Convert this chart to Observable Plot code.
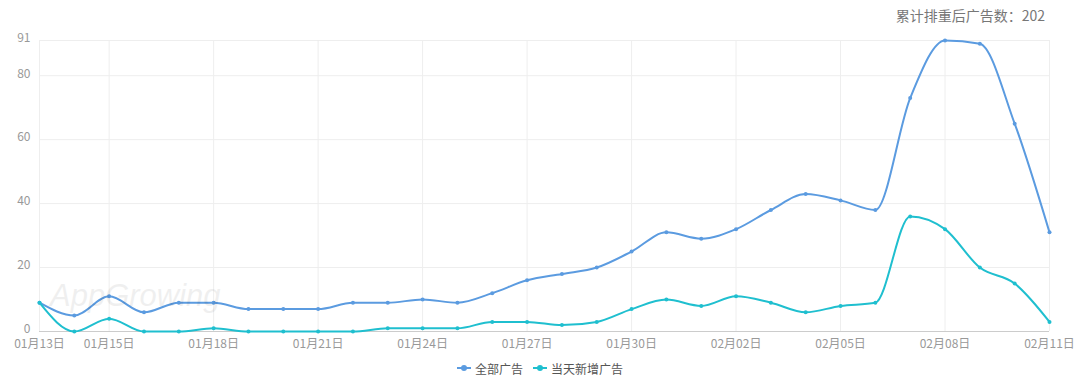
<!DOCTYPE html>
<html><head><meta charset="utf-8">
<script src="https://cdn.jsdelivr.net/npm/d3@7"></script>
<script src="https://cdn.jsdelivr.net/npm/@observablehq/plot@0.6"></script>
<style>
body{margin:0;background:#fff;font-family:"Noto Sans CJK SC","Noto Sans",sans-serif;}
#wrap{position:relative;width:1080px;height:378px;overflow:hidden;}
#title{position:absolute;top:5px;right:35px;font-size:14px;color:#777;white-space:nowrap;}
#wm{position:absolute;left:50px;top:278px;font-size:31px;font-style:italic;color:#000;opacity:0.06;font-family:"Liberation Sans",sans-serif;}
#legend{position:absolute;left:0;top:358px;width:1080px;height:20px;display:flex;justify-content:center;align-items:center;font-size:12px;color:#555;gap:10px;box-sizing:border-box;}
.item{display:flex;align-items:center;gap:4px;}
.sym{position:relative;width:14px;height:10px;}
.sym::before{content:"";position:absolute;left:0;top:4px;width:14px;height:2px;background:var(--c);}
.sym::after{content:"";position:absolute;left:4px;top:2px;width:6px;height:6px;border-radius:50%;background:var(--c);}
</style></head>
<body><div id="wrap">
<div id="chart"></div>
<div id="title">累计排重后广告数：202</div>
<div id="wm">AppGrowing</div>
<div id="legend"></div>
</div>
<script>
const dates = ["01-13","01-14","01-15","01-16","01-17","01-18","01-19","01-20","01-21","01-22","01-23","01-24","01-25","01-26","01-27","01-28","01-29","01-30","01-31","02-01","02-02","02-03","02-04","02-05","02-06","02-07","02-08","02-09","02-10","02-11"];
const allAds = [9,5,11,6,9,9,7,7,7,9,9,10,9,12,16,18,20,25,31,29,32,38,43,41,38,73,91,90,65,31];
const newAds = [9,0,4,0,0,1,0,0,0,0,1,1,1,3,3,2,3,7,10,8,11,9,6,8,9,36,32,20,15,3];
const seriesNames = ["全部广告","当天新增广告"];
const seriesColors = ["#5b9be0","#1fbfcf"];
const xTickDates = ["01-13","01-15","01-18","01-21","01-24","01-27","01-30","02-02","02-05","02-08","02-11"];
const yTicks = [0,20,40,60,80,91];

const parse = s => new Date(Date.UTC(2021, +s.slice(0,2)-1, +s.slice(3,5)));
const data = [];
dates.forEach((d,i)=>{
  data.push({date:parse(d), value:allAds[i], series:seriesNames[0]});
  data.push({date:parse(d), value:newAds[i], series:seriesNames[1]});
});
const xTicks = xTickDates.map(parse);
const fmt = d => String(d.getUTCMonth()+1).padStart(2,"0")+"月"+String(d.getUTCDate()).padStart(2,"0")+"日";

const chart = Plot.plot({
  width:1080, height:354,
  marginTop:40, marginBottom:23, marginLeft:39, marginRight:31,
  style:{fontFamily:'"Noto Sans CJK SC","Noto Sans",sans-serif', fontSize:"12px", color:"#999", background:"#fff"},
  x:{type:"utc", domain:[parse(dates[0]), parse(dates[dates.length-1])]},
  y:{domain:[0,91]},
  color:{domain:seriesNames, range:seriesColors},
  marks:[
    Plot.gridY(yTicks,{stroke:"#eee", strokeOpacity:1}),
    Plot.gridX(xTicks,{stroke:"#eee", strokeOpacity:1}),
    Plot.ruleY([0],{stroke:"#ccc"}),
    Plot.axisY(yTicks,{tickSize:0, tickPadding:9, fill:"#999", label:null, dy:-2}),
    Plot.axisX(xTicks,{tickSize:0, tickPadding:8, fill:"#999", label:null, tickFormat:fmt}),
    Plot.line(data,{x:"date", y:"value", stroke:"series", strokeWidth:2, curve:"monotone-x"}),
    Plot.dot(data,{x:"date", y:"value", fill:"series", r:2})
  ]
});
document.getElementById("chart").appendChild(chart);

const leg = document.getElementById("legend");
seriesNames.forEach((n,i)=>{
  const it = document.createElement("div"); it.className="item";
  const s = document.createElement("span"); s.className="sym"; s.style.setProperty("--c", seriesColors[i]);
  const t = document.createElement("span"); t.textContent = n;
  it.appendChild(s); it.appendChild(t); leg.appendChild(it);
});
</script>
</body></html>
